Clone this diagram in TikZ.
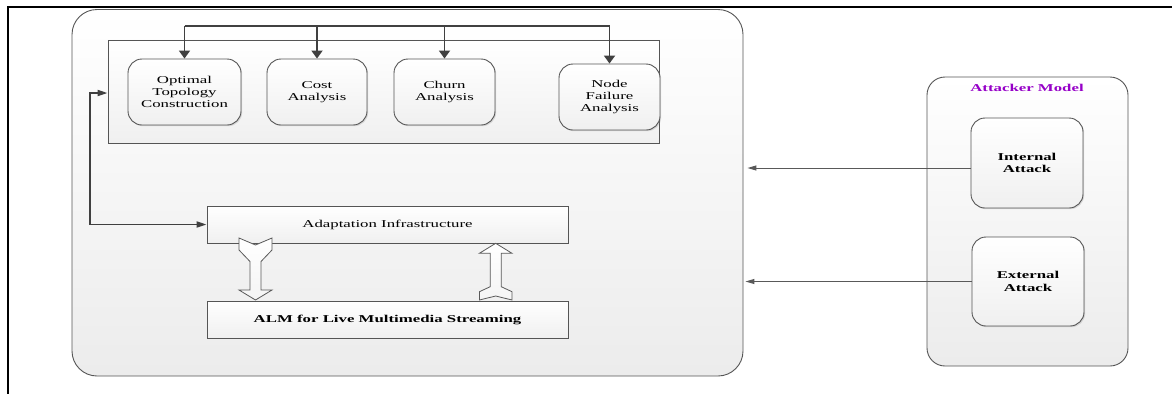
\documentclass[tikz,border=0pt]{standalone}
\usepackage{fontspec}
\setmainfont{Liberation Serif}
\newfontfamily\dfont[FakeStretch=1.6]{Liberation Serif}
\usetikzlibrary{arrows.meta,shadows}
\definecolor{edge}{HTML}{555555}
\definecolor{conn}{HTML}{404040}
\definecolor{att}{RGB}{150,0,200}
\begin{document}
\begin{tikzpicture}[x=1pt,y=-1pt,
  txt/.style={font=\dfont\fontsize{10.5}{12.2}\selectfont, align=center, text=black},
  container/.style={draw=edge, line width=0.9pt, rounded corners=25pt, top color=white, bottom color=gray!15, inner sep=0pt},
  plainbox/.style={draw=edge, line width=0.9pt, top color=white, bottom color=gray!12, inner sep=0pt,
     drop shadow={shadow xshift=1.2pt, shadow yshift=-1.2pt, opacity=0.25, fill=gray}},
  roundbox/.style={plainbox, rounded corners=14pt},
  busarrow/.style={draw=conn, line width=1.8pt, -{Triangle[length=8pt,width=11pt]}},
  busline/.style={draw=conn, line width=1.8pt},
  linkarrow/.style={draw=conn, line width=1.8pt, {Triangle[length=10pt,width=6pt]}-{Triangle[length=10pt,width=6pt]}},
  attarrow/.style={draw=gray!70!black, line width=1pt, -{Triangle[length=9pt,width=5pt]}},
  blockarrow/.style={draw=gray!70!black, line width=0.8pt, top color=white, bottom color=gray!8},
  frameline/.style={draw=black, line width=2.5pt}
]
\useasboundingbox (0,0) rectangle (1172,394);
\fill[white] (0,0) rectangle (1172,394);

% outer frame lines
\coordinate (ftl) at (8,7);
\coordinate (ftr) at (1172,7);
\coordinate (fbl) at (8,394);
\draw[frameline] (ftr) -- (ftl) -- (fbl);

% main container
\node[container, minimum width=671pt, minimum height=366.5pt] (main) at (407.5,192.75) {};
\node[plainbox, rounded corners=0pt, minimum width=551pt, minimum height=103pt] (inner) at (383.5,91.5) {};

% analysis boxes
\node[roundbox, minimum width=113pt, minimum height=66pt, txt] (opt) at (184.5,92) {Optimal\\Topology\\Construction};
\node[roundbox, minimum width=100pt, minimum height=66pt, txt] (cost) at (317,92) {Cost\\Analysis};
\node[roundbox, minimum width=101pt, minimum height=66pt, txt] (churn) at (444.5,92) {Churn\\Analysis};
\node[roundbox, minimum width=101pt, minimum height=66pt, txt] (nodef) at (609.5,97) {Node\\Failure\\Analysis};

% bus
\coordinate (bus) at (0,26);
\draw[busline] (opt.north |- bus) -- (nodef.north |- bus);
\draw[busarrow] (opt.north |- bus) -- (opt.north);
\draw[busarrow] (cost.north |- bus) -- (cost.north);
\draw[busarrow] (churn.north |- bus) -- (churn.north);
\draw[busarrow] (nodef.north |- bus) -- (nodef.north);

% adaptation and ALM
\node[plainbox, minimum width=361pt, minimum height=37pt, txt] (adapt) at (387.5,224.5) {Adaptation Infrastructure};
\node[plainbox, minimum width=361pt, minimum height=37pt, txt, font=\dfont\bfseries\fontsize{10.5}{12.2}\selectfont] (alm) at (387.5,319.5) {ALM for Live Multimedia Streaming};

% left link
\coordinate (lc) at (90,0);
\draw[linkarrow] ([yshift=-1.5pt]inner.west) -- ([yshift=-1.5pt]inner.west -| lc) |- (adapt.west);

% block arrows
\draw[blockarrow] (239,238) -- (255.5,245) -- (272,238) -- (272,250) -- (261,261.5) -- (261,290) -- (272,290) -- (255.5,300) -- (239,290) -- (250,290) -- (250,261.5) -- (239,250) -- cycle;
\draw[blockarrow] (495.7,243.3) -- (512,253.3) -- (501.2,253.3) -- (501.2,286.7) -- (512,291.7) -- (512,300) -- (495.7,296) -- (479.4,300) -- (479.4,291.7) -- (490.2,286.7) -- (490.2,253.3) -- (479.4,253.3) -- cycle;

% attacker model
\node[container, rounded corners=18pt, minimum width=201pt, minimum height=289pt] (attacker) at (1027.5,221.5) {};
\node[txt, text=att, font=\dfont\bfseries\fontsize{10.5}{12.2}\selectfont] (atttitle) at (1027,88) {Attacker Model};
\node[roundbox, minimum width=112pt, minimum height=90pt, txt, font=\dfont\bfseries\fontsize{10.5}{12.7}\selectfont] (internal) at (1027,163) {Internal\\Attack};
\node[roundbox, minimum width=112pt, minimum height=89pt, txt, font=\dfont\bfseries\fontsize{10.5}{12.7}\selectfont] (external) at (1028,281.5) {External\\Attack};

\draw[attarrow, shorten >=4pt] ([yshift=-5pt]internal.west) -- ([yshift=-5pt]internal.west -| main.east);
\draw[attarrow, shorten >=2pt] (external.west) -- (external.west -| main.east);
\end{tikzpicture}
\end{document}
